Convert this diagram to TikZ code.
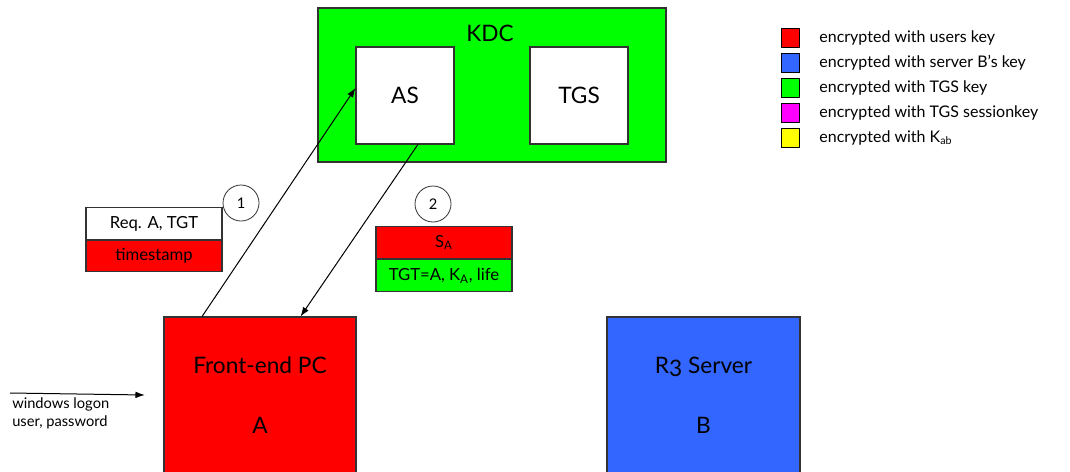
\documentclass[tikz,border=0pt]{standalone}
\usepackage{fontspec}
\setmainfont{Lato}
\usetikzlibrary{arrows.meta,positioning,calc}
\definecolor{usrred}{RGB}{255,0,0}
\definecolor{srvblue}{RGB}{51,102,255}
\definecolor{tgsgreen}{RGB}{0,255,0}
\definecolor{sesmagenta}{RGB}{255,0,255}
\definecolor{kabyellow}{RGB}{255,255,0}

\begin{document}
\begin{tikzpicture}[x=0.75pt,y=-0.75pt,>={Latex[length=7pt,width=5pt]},
    box/.style={draw=black!80, line width=0.8pt, inner sep=0pt, font=\fontsize{17}{20}\selectfont},
    msg/.style={draw=black!80, line width=0.8pt, inner sep=0pt, minimum width=102pt, minimum height=23.5pt, font=\fontsize{12.5}{14}\selectfont},
    num/.style={draw=black!80, circle, line width=0.6pt, minimum size=27pt, inner sep=0pt, font=\fontsize{11}{13}\selectfont},
    keybox/.style={draw, line width=0.9pt, minimum size=14pt, inner sep=0pt},
    link/.style={->, line width=0.75pt}]
    \useasboundingbox (0,0) rectangle (1070,471);
    \clip (0,0) rectangle (1070,471);

    % KDC with its two servers
    \node[box, fill=tgsgreen, minimum width=261pt, minimum height=115.5pt] (kdc) at (492,85) {};
    \node[font=\fontsize{17}{20}\selectfont] (kdctitle) at (490,33) {KDC};
    \node[box, fill=white, minimum width=73.5pt, minimum height=72.75pt] (as) at (405,95.5) {AS};
    \node[box, fill=white, minimum width=73.5pt, minimum height=72.75pt] (tgs) at (579,95.5) {TGS};

    % Client and server
    \node[box, fill=usrred, minimum width=144pt, minimum height=117pt, align=center,
          font=\fontsize{17}{45}\selectfont] (pc) at (260,395) {Front-end PC\\A};
    \node[box, fill=srvblue, minimum width=144.75pt, minimum height=117pt, align=center,
          font=\fontsize{17}{45}\selectfont] (server) at (703.5,395) {R\raisebox{-0.3ex}{3} Server\\B};

    % Step 1: request to AS
    \draw[link] ($(pc.north west)!0.2!(pc.north east)$) -- ([yshift=5.6pt]as.west);
    \node[num] (step1) at (241,203) {1};
    \node[msg, fill=white] (req) at (154,223.5) {Req. A, TGT};
    \node[msg, fill=usrred, below=0pt of req] (stamp) {timestamp};

    % Step 2: reply from AS
    \draw[link] ($(as.south west)!0.63!(as.south east)$) -- ($(pc.north west)!0.71!(pc.north east)$);
    \node[num] (step2) at (433,204) {2};
    \node[msg, fill=usrred, minimum height=24.5pt] (sess) at (444,242.5) {S\textsubscript{A}};
    \node[msg, fill=tgsgreen, below=0pt of sess] (tgt) {TGT=A, K\textsubscript{A}, life};

    % Logon
    \coordinate (logon) at (10,393);
    \draw[link] (logon) -- ([xshift=-14pt]pc.west);
    \node[anchor=north west, align=left, inner sep=0pt, font=\fontsize{11}{14}\selectfont] (logontext) at (12,397)
        {windows logon\\user, password};

    % Legend
    \foreach \c/\t [count=\i] in {usrred/{encrypted with users key},
        srvblue/{encrypted with server B's key},
        tgsgreen/{encrypted with TGS key},
        sesmagenta/{encrypted with TGS sessionkey},
        kabyellow/{encrypted with K\textsubscript{ab}}} {
        \node[keybox, fill=\c] (key\i) at (790.5,13+25*\i) {};
        \node[right=14pt of key\i, inner sep=0pt, font=\fontsize{12}{14}\selectfont] (keytext\i) {\t};
    }
\end{tikzpicture}
\end{document}
